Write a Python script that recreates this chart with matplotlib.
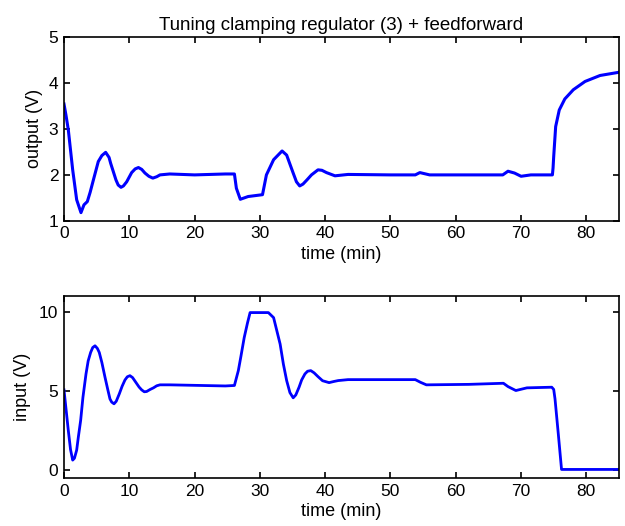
import numpy as np
import matplotlib
matplotlib.use('Agg')
import matplotlib.pyplot as plt

plt.rcParams['font.family'] = ['Liberation Sans', 'DejaVu Sans']
plt.rcParams['font.size'] = 12.5

# Выход (V)
t_out = [0.0, 0.3, 0.66, 1.33, 1.94, 2.6, 3.06, 3.57, 4.0, 4.5, 5.25, 5.8,
         6.38, 6.9, 7.15, 7.6, 7.96, 8.3, 8.73, 9.1, 9.6, 10.36, 10.9, 11.4,
         11.9, 12.4, 13.0, 13.6, 14.2, 14.7, 16.2, 20.0, 24.7, 26.1,
         26.4, 27.0, 28.2, 30.4, 31.0, 32.1, 33.4, 34.1, 35.1, 35.6, 36.1,
         36.6, 37.2, 37.9, 38.9, 39.5, 40.2, 41.5, 43.5, 50.0, 53.8, 54.5,
         56.0, 62.0, 67.2, 68.0, 69.0, 70.0, 71.5, 74.8, 74.9, 75.0, 75.3,
         75.85, 76.7, 78.0, 79.8, 82.1, 85.0]
v_out = [3.54, 3.3, 2.98, 2.11, 1.46, 1.18, 1.35, 1.42, 1.62, 1.89, 2.29, 2.42,
         2.49, 2.38, 2.25, 2.05, 1.89, 1.78, 1.73, 1.76, 1.85, 2.05, 2.13, 2.16,
         2.12, 2.04, 1.97, 1.93, 1.96, 2.0, 2.02, 2.0, 2.02, 2.02,
         1.71, 1.47, 1.53, 1.57, 2.0, 2.33, 2.52, 2.43, 2.04, 1.85, 1.76,
         1.8, 1.89, 2.0, 2.11, 2.1, 2.05, 1.98, 2.01, 2.0, 2.0, 2.05,
         2.0, 2.0, 2.0, 2.08, 2.04, 1.97, 2.0, 2.0, 2.15, 2.4, 3.05,
         3.41, 3.65, 3.85, 4.03, 4.16, 4.23]

# Вход (V)
t_in = [0.0, 0.3, 0.66, 1.0, 1.33, 1.6, 1.94, 2.2, 2.55, 2.9, 3.37, 3.7,
        4.08, 4.4, 4.75, 5.1, 5.4, 5.8, 6.28, 6.7, 7.04, 7.3, 7.66, 8.0,
        8.47, 8.9, 9.34, 9.7, 10.1, 10.5, 11.0, 11.5, 11.9, 12.3, 12.66,
        13.2, 13.7, 14.2, 14.7, 16.2, 24.7, 26.1, 26.7, 27.1, 27.6, 28.1,
        28.5, 31.3, 32.1, 33.1, 33.6, 34.1, 34.6, 35.1, 35.5, 36.0, 36.4,
        36.9, 37.3, 37.8, 38.3, 38.9, 39.6, 40.6, 41.3, 42.0, 43.5, 53.8,
        54.6, 55.5, 62.0, 67.3, 68.0, 69.2, 70.9, 74.7, 75.0, 75.2, 75.7,
        76.2, 85.0]
v_in = [5.07, 3.9, 2.5, 1.3, 0.63, 0.75, 1.26, 2.1, 3.14, 4.6, 6.08, 6.9,
        7.44, 7.75, 7.86, 7.7, 7.44, 6.8, 5.87, 5.1, 4.5, 4.3, 4.19, 4.35,
        4.82, 5.3, 5.7, 5.9, 5.97, 5.85, 5.55, 5.25, 5.07, 4.95, 4.97,
        5.1, 5.2, 5.33, 5.39, 5.39, 5.32, 5.35, 6.29, 7.2, 8.38, 9.3,
        9.96, 9.96, 9.64, 7.97, 6.7, 5.66, 4.9, 4.57, 4.75, 5.24, 5.7,
        6.08, 6.25, 6.29, 6.15, 5.91, 5.65, 5.53, 5.6, 5.66, 5.72, 5.72,
        5.55, 5.39, 5.42, 5.49, 5.28, 5.03, 5.2, 5.24, 5.1, 4.5, 2.3,
        0.04, 0.04]

fig = plt.figure(figsize=(6.25, 5.26), dpi=100)

ax1 = fig.add_axes([0.1024, 0.580, 0.888, 0.350])
ax1.plot(t_out, v_out, color='#0000ff', linewidth=2.2)
ax1.set_xlim(0, 85)
ax1.set_ylim(1, 5)
ax1.set_xticks(np.arange(0, 81, 10))
ax1.set_yticks([1, 2, 3, 4, 5])
ax1.set_xlabel('time (min)', fontsize=13, labelpad=3)
ax1.set_ylabel('output (V)', fontsize=13, labelpad=4)
ax1.set_title('Tuning clamping regulator (3) + feedforward', fontsize=13.5, pad=5)

ax2 = fig.add_axes([0.1024, 0.0913, 0.888, 0.3457])
ax2.plot(t_in, v_in, color='#0000ff', linewidth=2.0)
ax2.set_xlim(0, 85)
ax2.set_ylim(-0.5, 11)
ax2.set_xticks(np.arange(0, 81, 10))
ax2.set_yticks([0, 5, 10])
ax2.set_xlabel('time (min)', fontsize=13, labelpad=3)
ax2.set_ylabel('input (V)', fontsize=13, labelpad=6)

for ax in (ax1, ax2):
    ax.tick_params(direction='in', top=True, right=True, length=4, width=1.2, pad=4)
    for s in ax.spines.values():
        s.set_linewidth(1.2)

fig.savefig('out.png', dpi=100)
